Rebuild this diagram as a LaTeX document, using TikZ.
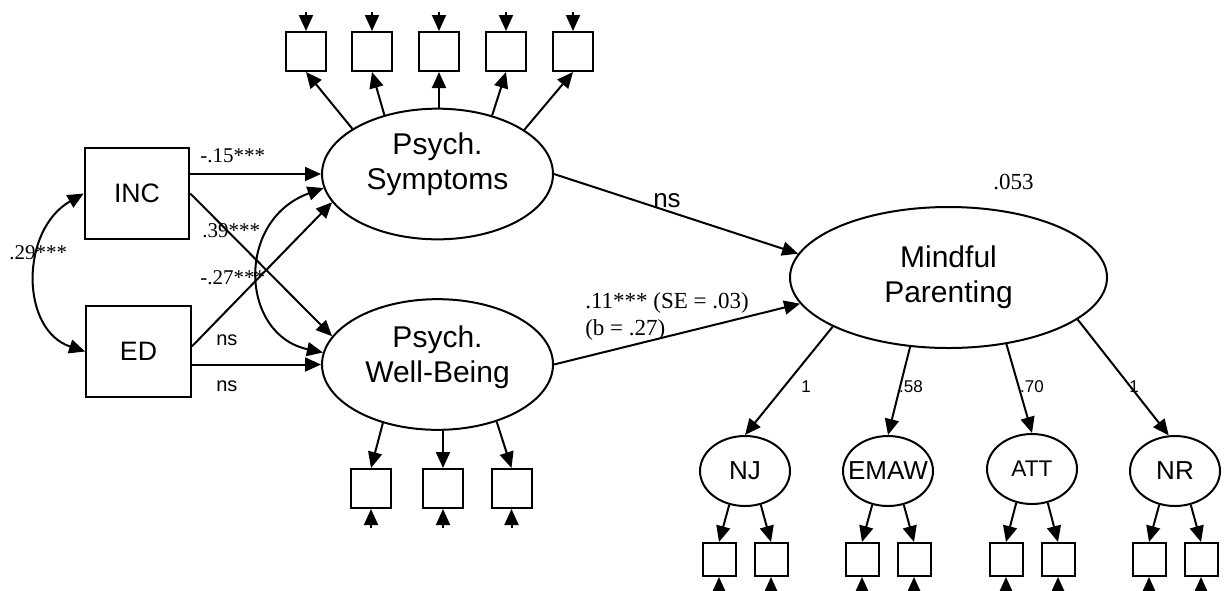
\documentclass[tikz,border=0pt]{standalone}
\usepackage{fontspec}
\setmainfont{Liberation Serif}
\setsansfont{Liberation Sans}
\usetikzlibrary{shapes.geometric,arrows.meta,calc}
\tikzset{
  ln/.style={line width=1.5pt},
  arr/.style={ln, -{Triangle[length=12pt,width=10.5pt]}},
  darr/.style={ln, {Triangle[length=12pt,width=10.5pt]}-{Triangle[length=12pt,width=10.5pt]}},
  obs/.style={draw, ln, rectangle, inner sep=0pt, minimum width=30pt, minimum height=29.25pt},
  sobs/.style={draw, ln, rectangle, inner sep=0pt, minimum width=24.75pt, minimum height=24.75pt},
  exo/.style={draw, ln, rectangle, inner sep=0pt, minimum width=78.5pt, minimum height=68.25pt,
              font=\sffamily\fontsize{20}{24}\selectfont},
  latent/.style={draw, ln, ellipse, inner sep=0pt, minimum width=173.25pt, minimum height=98pt},
  biglat/.style={draw, ln, ellipse, inner sep=0pt, minimum width=237.75pt, minimum height=105.75pt},
  latxt/.style={align=center, inner sep=0pt, font=\sffamily\fontsize{22.5}{26.25}\selectfont},
  sublat/.style={draw, ln, ellipse, inner sep=0pt, minimum width=67.5pt, minimum height=52.5pt,
                 font=\sffamily\fontsize{19.5}{22}\selectfont},
  coef/.style={inner sep=0pt, font=\rmfamily\fontsize{15.75}{18}\selectfont},
  bcoef/.style={inner sep=0pt, font=\rmfamily\fontsize{17.25}{20}\selectfont},
  nslab/.style={inner sep=0pt, font=\sffamily\fontsize{15}{18}\selectfont},
  ldlab/.style={inner sep=0pt, font=\sffamily\fontsize{12.75}{15}\selectfont},
}
\begin{document}
\begin{tikzpicture}[x=0.75pt, y=-0.75pt]
\useasboundingbox (0,0) rectangle (1230,590);

% exogenous observed
\node[exo] (inc) at (137,193.5) {INC};
\node[exo] (ed) at (138.5,351.5) {ED};

% latent variables
\node[latent] (ps) at (437.5,174) {};
\node[latxt] (pst) at (437.5,164.7) {Psych.\\Symptoms};
\node[latent] (pwb) at (437.5,364.5) {};
\node[latxt] (pwbt) at (437.5,357.7) {Psych.\\Well-Being};
\node[biglat] (mp) at (948.5,277.5) {};
\node[latxt] (mpt) at (948.5,277.7) {Mindful\\Parenting};

% sub-factors
\node[sublat] (nj) at (745,471) {\makebox[0pt]{NJ}};
\node[sublat] (emaw) at (888,471) {\makebox[0pt]{EMAW}};
\node[sublat, font=\sffamily\fontsize{17}{20}\selectfont] (att) at (1032,469) {\makebox[0pt]{ATT}};
\node[sublat] (nr) at (1175,471) {\makebox[0pt]{NR}};

% PS indicators
\foreach \i/\x in {1/306,2/372,3/439,4/506,5/573}{
  \node[obs] (s\i) at (\x,51.5) {};
  \coordinate (es\i) at (\x,12);
  \draw[arr] (es\i) -- (s\i.north);
}
% PWB indicators
\foreach \i/\x in {1/371,2/443,3/511.5}{
  \node[obs] (w\i) at (\x,488.5) {};
  \coordinate (ew\i) at (\x,528);
  \draw[arr] (ew\i) -- (w\i.south);
}
% sub-factor indicators
\foreach \i/\x in {1/719,2/771,3/862,4/914,5/1006,6/1058,7/1149,8/1201}{
  \node[sobs] (m\i) at (\x,559.5) {};
  \coordinate (em\i) at (\x,596);
  \draw[arr] (em\i) -- (m\i.south);
}

% PS loadings
\draw[arr] (ps.152) -- (s1.south);
\draw[arr] (ps.132) -- (s2.south);
\draw[arr] (s3.south |- ps.north) -- (s3.south);
\draw[arr] (ps.47) -- (s4.south);
\draw[arr] (ps.27) -- (s5.south);

% PWB loadings
\draw[arr] (pwb.227) -- (w1.north);
\draw[arr] (w2.north |- pwb.south) -- (w2.north);
\draw[arr] (pwb.316) -- (w3.north);

% sub-factor loadings
\draw[arr] (nj.245) -- (m1.north);
\draw[arr] (nj.295) -- (m2.north);
\draw[arr] (emaw.245) -- (m3.north);
\draw[arr] (emaw.295) -- (m4.north);
\draw[arr] (att.245) -- (m5.north);
\draw[arr] (att.295) -- (m6.north);
\draw[arr] (nr.245) -- (m7.north);
\draw[arr] (nr.295) -- (m8.north);

% MP loadings
\draw[arr] (mp.203) -- (nj.north);
\draw[arr] (mp.241) -- (emaw.north);
\draw[arr] (mp.311) -- (att.north);
\draw[arr] (mp.342) -- (nr.100);
\node[ldlab, anchor=base] (l1) at (806,392) {1};
\node[ldlab, anchor=base] (l2) at (911,392) {.58};
\node[ldlab, anchor=base] (l3) at (1032,392) {.70};
\node[ldlab, anchor=base] (l4) at (1134,392) {1};

% structural paths
\draw[arr] (inc.east |- ps.west) -- (ps.west);
\draw[arr] (inc.east) -- (pwb.165);
\draw[arr] ($(ed.east)+(0,-5)$) -- (ps.195);
\draw[arr] (ed.east |- pwb.west) -- (pwb.west);
\draw[darr] (inc.west) .. controls (20,230) and (20,330) .. (ed.west);
\draw[darr] (ps.187) .. controls (235,220) and (240,335) .. (pwb.174);
\draw[arr] (ps.east) -- (mp.171);
\draw[arr] (pwb.east) -- (mp.190);

% labels
\node[coef, anchor=base west] (c15) at (200,162) {-.15***};
\node[coef, anchor=base west] (c39) at (202,237) {.39***};
\node[coef, anchor=base west] (c27) at (200,284) {-.27***};
\node[coef, anchor=base west] (c29) at (9,259) {.29***};
\node[nslab, anchor=base west] (ns1) at (216,345) {ns};
\node[nslab, anchor=base west] (ns2) at (216,391) {ns};
\node[nslab, anchor=base west, font=\sffamily\fontsize{19.5}{22}\selectfont] (ns3) at (653,207) {ns};
\node[bcoef, anchor=base west] (c11) at (585,308) {.11*** (SE = .03)};
\node[bcoef, anchor=base west] (cb) at (585,335) {(b = .27)};
\node[bcoef, anchor=base west] (r2) at (993,189) {.053};
\end{tikzpicture}
\end{document}
